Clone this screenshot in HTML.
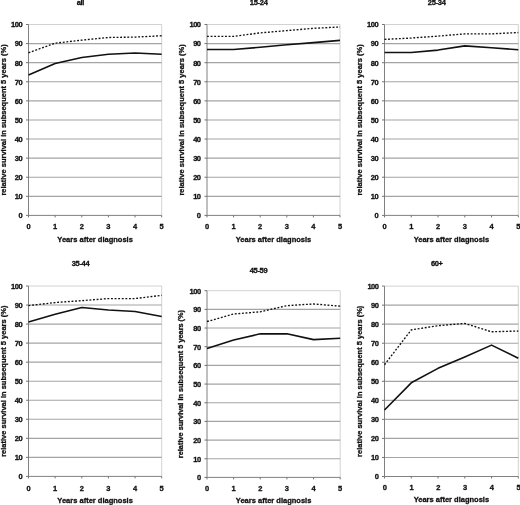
<!DOCTYPE html>
<html><head><meta charset="utf-8"><title>Conditional relative survival</title>
<style>
html,body{margin:0;padding:0;background:#fff;}
body{width:520px;height:505px;overflow:hidden;}
svg{display:block;will-change:transform;filter:grayscale(1);}
text{font-family:"Liberation Sans",Arial,Helvetica,sans-serif;font-weight:bold;font-size:7.5px;fill:#111;stroke:#111;stroke-width:0.3px;}
.yl{font-weight:bold;}
.yt{letter-spacing:-0.5px;}
.tt{letter-spacing:-0.3px;}
</style></head><body>
<svg width="520" height="505" viewBox="0 0 520 505">
<rect width="520" height="505" fill="#fff"/>
<g>
<path d="M28.5 24.5H161.7V215.4" fill="none" stroke="#c6c6c6" stroke-width="0.8"/>
<line x1="28.50" y1="196.31" x2="161.70" y2="196.31" stroke="#a4a4a4" stroke-width="1.15"/>
<line x1="28.50" y1="177.22" x2="161.70" y2="177.22" stroke="#a4a4a4" stroke-width="1.15"/>
<line x1="28.50" y1="158.13" x2="161.70" y2="158.13" stroke="#a4a4a4" stroke-width="1.15"/>
<line x1="28.50" y1="139.04" x2="161.70" y2="139.04" stroke="#a4a4a4" stroke-width="1.15"/>
<line x1="28.50" y1="119.95" x2="161.70" y2="119.95" stroke="#a4a4a4" stroke-width="1.15"/>
<line x1="28.50" y1="100.86" x2="161.70" y2="100.86" stroke="#a4a4a4" stroke-width="1.15"/>
<line x1="28.50" y1="81.77" x2="161.70" y2="81.77" stroke="#a4a4a4" stroke-width="1.15"/>
<line x1="28.50" y1="62.68" x2="161.70" y2="62.68" stroke="#a4a4a4" stroke-width="1.15"/>
<line x1="28.50" y1="43.59" x2="161.70" y2="43.59" stroke="#a4a4a4" stroke-width="1.15"/>
<path d="M28.5 24.5V215.4H161.7" fill="none" stroke="#727272" stroke-width="0.9"/>
<line x1="26.00" y1="215.40" x2="28.50" y2="215.40" stroke="#727272" stroke-width="1"/>
<text x="22.10" y="218.30" text-anchor="end" class="yt">0</text>
<line x1="26.00" y1="196.31" x2="28.50" y2="196.31" stroke="#727272" stroke-width="1"/>
<text x="22.10" y="199.21" text-anchor="end" class="yt">10</text>
<line x1="26.00" y1="177.22" x2="28.50" y2="177.22" stroke="#727272" stroke-width="1"/>
<text x="22.10" y="180.12" text-anchor="end" class="yt">20</text>
<line x1="26.00" y1="158.13" x2="28.50" y2="158.13" stroke="#727272" stroke-width="1"/>
<text x="22.10" y="161.03" text-anchor="end" class="yt">30</text>
<line x1="26.00" y1="139.04" x2="28.50" y2="139.04" stroke="#727272" stroke-width="1"/>
<text x="22.10" y="141.94" text-anchor="end" class="yt">40</text>
<line x1="26.00" y1="119.95" x2="28.50" y2="119.95" stroke="#727272" stroke-width="1"/>
<text x="22.10" y="122.85" text-anchor="end" class="yt">50</text>
<line x1="26.00" y1="100.86" x2="28.50" y2="100.86" stroke="#727272" stroke-width="1"/>
<text x="22.10" y="103.76" text-anchor="end" class="yt">60</text>
<line x1="26.00" y1="81.77" x2="28.50" y2="81.77" stroke="#727272" stroke-width="1"/>
<text x="22.10" y="84.67" text-anchor="end" class="yt">70</text>
<line x1="26.00" y1="62.68" x2="28.50" y2="62.68" stroke="#727272" stroke-width="1"/>
<text x="22.10" y="65.58" text-anchor="end" class="yt">80</text>
<line x1="26.00" y1="43.59" x2="28.50" y2="43.59" stroke="#727272" stroke-width="1"/>
<text x="22.10" y="46.49" text-anchor="end" class="yt">90</text>
<line x1="26.00" y1="24.50" x2="28.50" y2="24.50" stroke="#727272" stroke-width="1"/>
<text x="22.10" y="27.40" text-anchor="end" class="yt">100</text>
<line x1="28.50" y1="215.40" x2="28.50" y2="217.40" stroke="#727272" stroke-width="1"/>
<text x="28.50" y="229.10" text-anchor="middle">0</text>
<line x1="55.14" y1="215.40" x2="55.14" y2="217.40" stroke="#727272" stroke-width="1"/>
<text x="55.14" y="229.10" text-anchor="middle">1</text>
<line x1="81.78" y1="215.40" x2="81.78" y2="217.40" stroke="#727272" stroke-width="1"/>
<text x="81.78" y="229.10" text-anchor="middle">2</text>
<line x1="108.42" y1="215.40" x2="108.42" y2="217.40" stroke="#727272" stroke-width="1"/>
<text x="108.42" y="229.10" text-anchor="middle">3</text>
<line x1="135.06" y1="215.40" x2="135.06" y2="217.40" stroke="#727272" stroke-width="1"/>
<text x="135.06" y="229.10" text-anchor="middle">4</text>
<line x1="161.70" y1="215.40" x2="161.70" y2="217.40" stroke="#727272" stroke-width="1"/>
<text x="161.70" y="229.10" text-anchor="middle">5</text>
<polyline points="28.50,52.75 55.14,43.21 81.78,40.15 108.42,37.48 135.06,37.10 161.70,35.76" fill="none" stroke="#111" stroke-width="1.35" stroke-dasharray="1.9 1.7"/>
<polyline points="28.50,75.09 55.14,63.44 81.78,57.53 108.42,54.28 135.06,52.94 161.70,54.28" fill="none" stroke="#111" stroke-width="1.6" stroke-linejoin="round"/>
<text x="80.4" y="5.30" text-anchor="middle" class="tt">all</text>
<text x="95.10" y="241.70" text-anchor="middle">Years after diagnosis</text>
<text class="yl" style="font-size:7.5px" transform="translate(5.70 119.95) rotate(-90)" text-anchor="middle">relative survival in subsequent 5 years (%)</text>
</g>
<g>
<path d="M207.0 24.5H340.0V215.4" fill="none" stroke="#c6c6c6" stroke-width="0.8"/>
<line x1="207.00" y1="196.31" x2="340.00" y2="196.31" stroke="#a4a4a4" stroke-width="1.15"/>
<line x1="207.00" y1="177.22" x2="340.00" y2="177.22" stroke="#a4a4a4" stroke-width="1.15"/>
<line x1="207.00" y1="158.13" x2="340.00" y2="158.13" stroke="#a4a4a4" stroke-width="1.15"/>
<line x1="207.00" y1="139.04" x2="340.00" y2="139.04" stroke="#a4a4a4" stroke-width="1.15"/>
<line x1="207.00" y1="119.95" x2="340.00" y2="119.95" stroke="#a4a4a4" stroke-width="1.15"/>
<line x1="207.00" y1="100.86" x2="340.00" y2="100.86" stroke="#a4a4a4" stroke-width="1.15"/>
<line x1="207.00" y1="81.77" x2="340.00" y2="81.77" stroke="#a4a4a4" stroke-width="1.15"/>
<line x1="207.00" y1="62.68" x2="340.00" y2="62.68" stroke="#a4a4a4" stroke-width="1.15"/>
<line x1="207.00" y1="43.59" x2="340.00" y2="43.59" stroke="#a4a4a4" stroke-width="1.15"/>
<path d="M207.0 24.5V215.4H340.0" fill="none" stroke="#727272" stroke-width="0.9"/>
<line x1="204.50" y1="215.40" x2="207.00" y2="215.40" stroke="#727272" stroke-width="1"/>
<text x="200.50" y="218.30" text-anchor="end" class="yt">0</text>
<line x1="204.50" y1="196.31" x2="207.00" y2="196.31" stroke="#727272" stroke-width="1"/>
<text x="200.50" y="199.21" text-anchor="end" class="yt">10</text>
<line x1="204.50" y1="177.22" x2="207.00" y2="177.22" stroke="#727272" stroke-width="1"/>
<text x="200.50" y="180.12" text-anchor="end" class="yt">20</text>
<line x1="204.50" y1="158.13" x2="207.00" y2="158.13" stroke="#727272" stroke-width="1"/>
<text x="200.50" y="161.03" text-anchor="end" class="yt">30</text>
<line x1="204.50" y1="139.04" x2="207.00" y2="139.04" stroke="#727272" stroke-width="1"/>
<text x="200.50" y="141.94" text-anchor="end" class="yt">40</text>
<line x1="204.50" y1="119.95" x2="207.00" y2="119.95" stroke="#727272" stroke-width="1"/>
<text x="200.50" y="122.85" text-anchor="end" class="yt">50</text>
<line x1="204.50" y1="100.86" x2="207.00" y2="100.86" stroke="#727272" stroke-width="1"/>
<text x="200.50" y="103.76" text-anchor="end" class="yt">60</text>
<line x1="204.50" y1="81.77" x2="207.00" y2="81.77" stroke="#727272" stroke-width="1"/>
<text x="200.50" y="84.67" text-anchor="end" class="yt">70</text>
<line x1="204.50" y1="62.68" x2="207.00" y2="62.68" stroke="#727272" stroke-width="1"/>
<text x="200.50" y="65.58" text-anchor="end" class="yt">80</text>
<line x1="204.50" y1="43.59" x2="207.00" y2="43.59" stroke="#727272" stroke-width="1"/>
<text x="200.50" y="46.49" text-anchor="end" class="yt">90</text>
<line x1="204.50" y1="24.50" x2="207.00" y2="24.50" stroke="#727272" stroke-width="1"/>
<text x="200.50" y="27.40" text-anchor="end" class="yt">100</text>
<line x1="207.00" y1="215.40" x2="207.00" y2="217.40" stroke="#727272" stroke-width="1"/>
<text x="207.00" y="229.10" text-anchor="middle">0</text>
<line x1="233.60" y1="215.40" x2="233.60" y2="217.40" stroke="#727272" stroke-width="1"/>
<text x="233.60" y="229.10" text-anchor="middle">1</text>
<line x1="260.20" y1="215.40" x2="260.20" y2="217.40" stroke="#727272" stroke-width="1"/>
<text x="260.20" y="229.10" text-anchor="middle">2</text>
<line x1="286.80" y1="215.40" x2="286.80" y2="217.40" stroke="#727272" stroke-width="1"/>
<text x="286.80" y="229.10" text-anchor="middle">3</text>
<line x1="313.40" y1="215.40" x2="313.40" y2="217.40" stroke="#727272" stroke-width="1"/>
<text x="313.40" y="229.10" text-anchor="middle">4</text>
<line x1="340.00" y1="215.40" x2="340.00" y2="217.40" stroke="#727272" stroke-width="1"/>
<text x="340.00" y="229.10" text-anchor="middle">5</text>
<polyline points="207.00,36.34 233.60,36.34 260.20,32.90 286.80,30.61 313.40,28.32 340.00,26.98" fill="none" stroke="#111" stroke-width="1.35" stroke-dasharray="1.9 1.7"/>
<polyline points="207.00,49.51 233.60,49.51 260.20,47.22 286.80,44.74 313.40,42.64 340.00,40.34" fill="none" stroke="#111" stroke-width="1.6" stroke-linejoin="round"/>
<text x="258.7" y="5.30" text-anchor="middle" class="tt">15-24</text>
<text x="273.50" y="241.70" text-anchor="middle">Years after diagnosis</text>
<text class="yl" style="font-size:7.5px" transform="translate(183.90 119.95) rotate(-90)" text-anchor="middle">relative survival in subsequent 5 years (%)</text>
</g>
<g>
<path d="M384.5 24.5H518.3V215.4" fill="none" stroke="#c6c6c6" stroke-width="0.8"/>
<line x1="384.50" y1="196.31" x2="518.30" y2="196.31" stroke="#a4a4a4" stroke-width="1.15"/>
<line x1="384.50" y1="177.22" x2="518.30" y2="177.22" stroke="#a4a4a4" stroke-width="1.15"/>
<line x1="384.50" y1="158.13" x2="518.30" y2="158.13" stroke="#a4a4a4" stroke-width="1.15"/>
<line x1="384.50" y1="139.04" x2="518.30" y2="139.04" stroke="#a4a4a4" stroke-width="1.15"/>
<line x1="384.50" y1="119.95" x2="518.30" y2="119.95" stroke="#a4a4a4" stroke-width="1.15"/>
<line x1="384.50" y1="100.86" x2="518.30" y2="100.86" stroke="#a4a4a4" stroke-width="1.15"/>
<line x1="384.50" y1="81.77" x2="518.30" y2="81.77" stroke="#a4a4a4" stroke-width="1.15"/>
<line x1="384.50" y1="62.68" x2="518.30" y2="62.68" stroke="#a4a4a4" stroke-width="1.15"/>
<line x1="384.50" y1="43.59" x2="518.30" y2="43.59" stroke="#a4a4a4" stroke-width="1.15"/>
<path d="M384.5 24.5V215.4H518.3" fill="none" stroke="#727272" stroke-width="0.9"/>
<line x1="382.00" y1="215.40" x2="384.50" y2="215.40" stroke="#727272" stroke-width="1"/>
<text x="378.10" y="218.30" text-anchor="end" class="yt">0</text>
<line x1="382.00" y1="196.31" x2="384.50" y2="196.31" stroke="#727272" stroke-width="1"/>
<text x="378.10" y="199.21" text-anchor="end" class="yt">10</text>
<line x1="382.00" y1="177.22" x2="384.50" y2="177.22" stroke="#727272" stroke-width="1"/>
<text x="378.10" y="180.12" text-anchor="end" class="yt">20</text>
<line x1="382.00" y1="158.13" x2="384.50" y2="158.13" stroke="#727272" stroke-width="1"/>
<text x="378.10" y="161.03" text-anchor="end" class="yt">30</text>
<line x1="382.00" y1="139.04" x2="384.50" y2="139.04" stroke="#727272" stroke-width="1"/>
<text x="378.10" y="141.94" text-anchor="end" class="yt">40</text>
<line x1="382.00" y1="119.95" x2="384.50" y2="119.95" stroke="#727272" stroke-width="1"/>
<text x="378.10" y="122.85" text-anchor="end" class="yt">50</text>
<line x1="382.00" y1="100.86" x2="384.50" y2="100.86" stroke="#727272" stroke-width="1"/>
<text x="378.10" y="103.76" text-anchor="end" class="yt">60</text>
<line x1="382.00" y1="81.77" x2="384.50" y2="81.77" stroke="#727272" stroke-width="1"/>
<text x="378.10" y="84.67" text-anchor="end" class="yt">70</text>
<line x1="382.00" y1="62.68" x2="384.50" y2="62.68" stroke="#727272" stroke-width="1"/>
<text x="378.10" y="65.58" text-anchor="end" class="yt">80</text>
<line x1="382.00" y1="43.59" x2="384.50" y2="43.59" stroke="#727272" stroke-width="1"/>
<text x="378.10" y="46.49" text-anchor="end" class="yt">90</text>
<line x1="382.00" y1="24.50" x2="384.50" y2="24.50" stroke="#727272" stroke-width="1"/>
<text x="378.10" y="27.40" text-anchor="end" class="yt">100</text>
<line x1="384.50" y1="215.40" x2="384.50" y2="217.40" stroke="#727272" stroke-width="1"/>
<text x="384.50" y="229.10" text-anchor="middle">0</text>
<line x1="411.26" y1="215.40" x2="411.26" y2="217.40" stroke="#727272" stroke-width="1"/>
<text x="411.26" y="229.10" text-anchor="middle">1</text>
<line x1="438.02" y1="215.40" x2="438.02" y2="217.40" stroke="#727272" stroke-width="1"/>
<text x="438.02" y="229.10" text-anchor="middle">2</text>
<line x1="464.78" y1="215.40" x2="464.78" y2="217.40" stroke="#727272" stroke-width="1"/>
<text x="464.78" y="229.10" text-anchor="middle">3</text>
<line x1="491.54" y1="215.40" x2="491.54" y2="217.40" stroke="#727272" stroke-width="1"/>
<text x="491.54" y="229.10" text-anchor="middle">4</text>
<line x1="518.30" y1="215.40" x2="518.30" y2="217.40" stroke="#727272" stroke-width="1"/>
<text x="518.30" y="229.10" text-anchor="middle">5</text>
<polyline points="384.50,39.39 411.26,38.05 438.02,36.14 464.78,33.85 491.54,33.85 518.30,32.52" fill="none" stroke="#111" stroke-width="1.35" stroke-dasharray="1.9 1.7"/>
<polyline points="384.50,52.56 411.26,52.56 438.02,50.08 464.78,45.88 491.54,47.79 518.30,49.70" fill="none" stroke="#111" stroke-width="1.6" stroke-linejoin="round"/>
<text x="436.7" y="5.10" text-anchor="middle" class="tt">25-34</text>
<text x="451.40" y="241.70" text-anchor="middle">Years after diagnosis</text>
<text class="yl" style="font-size:7.5px" transform="translate(361.80 119.95) rotate(-90)" text-anchor="middle">relative survival in subsequent 5 years (%)</text>
</g>
<g>
<path d="M28.5 286.0H161.7V476.4" fill="none" stroke="#c6c6c6" stroke-width="0.8"/>
<line x1="28.50" y1="457.36" x2="161.70" y2="457.36" stroke="#a4a4a4" stroke-width="1.15"/>
<line x1="28.50" y1="438.32" x2="161.70" y2="438.32" stroke="#a4a4a4" stroke-width="1.15"/>
<line x1="28.50" y1="419.28" x2="161.70" y2="419.28" stroke="#a4a4a4" stroke-width="1.15"/>
<line x1="28.50" y1="400.24" x2="161.70" y2="400.24" stroke="#a4a4a4" stroke-width="1.15"/>
<line x1="28.50" y1="381.20" x2="161.70" y2="381.20" stroke="#a4a4a4" stroke-width="1.15"/>
<line x1="28.50" y1="362.16" x2="161.70" y2="362.16" stroke="#a4a4a4" stroke-width="1.15"/>
<line x1="28.50" y1="343.12" x2="161.70" y2="343.12" stroke="#a4a4a4" stroke-width="1.15"/>
<line x1="28.50" y1="324.08" x2="161.70" y2="324.08" stroke="#a4a4a4" stroke-width="1.15"/>
<line x1="28.50" y1="305.04" x2="161.70" y2="305.04" stroke="#a4a4a4" stroke-width="1.15"/>
<path d="M28.5 286.0V476.4H161.7" fill="none" stroke="#727272" stroke-width="0.9"/>
<line x1="26.00" y1="476.40" x2="28.50" y2="476.40" stroke="#727272" stroke-width="1"/>
<text x="22.10" y="479.30" text-anchor="end" class="yt">0</text>
<line x1="26.00" y1="457.36" x2="28.50" y2="457.36" stroke="#727272" stroke-width="1"/>
<text x="22.10" y="460.26" text-anchor="end" class="yt">10</text>
<line x1="26.00" y1="438.32" x2="28.50" y2="438.32" stroke="#727272" stroke-width="1"/>
<text x="22.10" y="441.22" text-anchor="end" class="yt">20</text>
<line x1="26.00" y1="419.28" x2="28.50" y2="419.28" stroke="#727272" stroke-width="1"/>
<text x="22.10" y="422.18" text-anchor="end" class="yt">30</text>
<line x1="26.00" y1="400.24" x2="28.50" y2="400.24" stroke="#727272" stroke-width="1"/>
<text x="22.10" y="403.14" text-anchor="end" class="yt">40</text>
<line x1="26.00" y1="381.20" x2="28.50" y2="381.20" stroke="#727272" stroke-width="1"/>
<text x="22.10" y="384.10" text-anchor="end" class="yt">50</text>
<line x1="26.00" y1="362.16" x2="28.50" y2="362.16" stroke="#727272" stroke-width="1"/>
<text x="22.10" y="365.06" text-anchor="end" class="yt">60</text>
<line x1="26.00" y1="343.12" x2="28.50" y2="343.12" stroke="#727272" stroke-width="1"/>
<text x="22.10" y="346.02" text-anchor="end" class="yt">70</text>
<line x1="26.00" y1="324.08" x2="28.50" y2="324.08" stroke="#727272" stroke-width="1"/>
<text x="22.10" y="326.98" text-anchor="end" class="yt">80</text>
<line x1="26.00" y1="305.04" x2="28.50" y2="305.04" stroke="#727272" stroke-width="1"/>
<text x="22.10" y="307.94" text-anchor="end" class="yt">90</text>
<line x1="26.00" y1="286.00" x2="28.50" y2="286.00" stroke="#727272" stroke-width="1"/>
<text x="22.10" y="288.90" text-anchor="end" class="yt">100</text>
<line x1="28.50" y1="476.40" x2="28.50" y2="478.40" stroke="#727272" stroke-width="1"/>
<text x="28.50" y="490.60" text-anchor="middle">0</text>
<line x1="55.14" y1="476.40" x2="55.14" y2="478.40" stroke="#727272" stroke-width="1"/>
<text x="55.14" y="490.60" text-anchor="middle">1</text>
<line x1="81.78" y1="476.40" x2="81.78" y2="478.40" stroke="#727272" stroke-width="1"/>
<text x="81.78" y="490.60" text-anchor="middle">2</text>
<line x1="108.42" y1="476.40" x2="108.42" y2="478.40" stroke="#727272" stroke-width="1"/>
<text x="108.42" y="490.60" text-anchor="middle">3</text>
<line x1="135.06" y1="476.40" x2="135.06" y2="478.40" stroke="#727272" stroke-width="1"/>
<text x="135.06" y="490.60" text-anchor="middle">4</text>
<line x1="161.70" y1="476.40" x2="161.70" y2="478.40" stroke="#727272" stroke-width="1"/>
<text x="161.70" y="490.60" text-anchor="middle">5</text>
<polyline points="28.50,305.61 55.14,302.56 81.78,300.66 108.42,298.57 135.06,298.57 161.70,295.33" fill="none" stroke="#111" stroke-width="1.35" stroke-dasharray="1.9 1.7"/>
<polyline points="28.50,321.99 55.14,314.18 81.78,307.52 108.42,309.99 135.06,311.51 161.70,316.46" fill="none" stroke="#111" stroke-width="1.6" stroke-linejoin="round"/>
<text x="80.5" y="266.30" text-anchor="middle" class="tt">35-44</text>
<text x="95.10" y="502.70" text-anchor="middle">Years after diagnosis</text>
<text class="yl" style="font-size:7.5px" transform="translate(5.50 381.20) rotate(-90)" text-anchor="middle">relative survival in subsequent 5 years (%)</text>
</g>
<g>
<path d="M207.0 290.7H340.2V477.4" fill="none" stroke="#c6c6c6" stroke-width="0.8"/>
<line x1="207.00" y1="458.73" x2="340.20" y2="458.73" stroke="#a4a4a4" stroke-width="1.15"/>
<line x1="207.00" y1="440.06" x2="340.20" y2="440.06" stroke="#a4a4a4" stroke-width="1.15"/>
<line x1="207.00" y1="421.39" x2="340.20" y2="421.39" stroke="#a4a4a4" stroke-width="1.15"/>
<line x1="207.00" y1="402.72" x2="340.20" y2="402.72" stroke="#a4a4a4" stroke-width="1.15"/>
<line x1="207.00" y1="384.05" x2="340.20" y2="384.05" stroke="#a4a4a4" stroke-width="1.15"/>
<line x1="207.00" y1="365.38" x2="340.20" y2="365.38" stroke="#a4a4a4" stroke-width="1.15"/>
<line x1="207.00" y1="346.71" x2="340.20" y2="346.71" stroke="#a4a4a4" stroke-width="1.15"/>
<line x1="207.00" y1="328.04" x2="340.20" y2="328.04" stroke="#a4a4a4" stroke-width="1.15"/>
<line x1="207.00" y1="309.37" x2="340.20" y2="309.37" stroke="#a4a4a4" stroke-width="1.15"/>
<path d="M207.0 290.7V477.4H340.2" fill="none" stroke="#727272" stroke-width="0.9"/>
<line x1="204.50" y1="477.40" x2="207.00" y2="477.40" stroke="#727272" stroke-width="1"/>
<text x="200.60" y="480.30" text-anchor="end" class="yt">0</text>
<line x1="204.50" y1="458.73" x2="207.00" y2="458.73" stroke="#727272" stroke-width="1"/>
<text x="200.60" y="461.63" text-anchor="end" class="yt">10</text>
<line x1="204.50" y1="440.06" x2="207.00" y2="440.06" stroke="#727272" stroke-width="1"/>
<text x="200.60" y="442.96" text-anchor="end" class="yt">20</text>
<line x1="204.50" y1="421.39" x2="207.00" y2="421.39" stroke="#727272" stroke-width="1"/>
<text x="200.60" y="424.29" text-anchor="end" class="yt">30</text>
<line x1="204.50" y1="402.72" x2="207.00" y2="402.72" stroke="#727272" stroke-width="1"/>
<text x="200.60" y="405.62" text-anchor="end" class="yt">40</text>
<line x1="204.50" y1="384.05" x2="207.00" y2="384.05" stroke="#727272" stroke-width="1"/>
<text x="200.60" y="386.95" text-anchor="end" class="yt">50</text>
<line x1="204.50" y1="365.38" x2="207.00" y2="365.38" stroke="#727272" stroke-width="1"/>
<text x="200.60" y="368.28" text-anchor="end" class="yt">60</text>
<line x1="204.50" y1="346.71" x2="207.00" y2="346.71" stroke="#727272" stroke-width="1"/>
<text x="200.60" y="349.61" text-anchor="end" class="yt">70</text>
<line x1="204.50" y1="328.04" x2="207.00" y2="328.04" stroke="#727272" stroke-width="1"/>
<text x="200.60" y="330.94" text-anchor="end" class="yt">80</text>
<line x1="204.50" y1="309.37" x2="207.00" y2="309.37" stroke="#727272" stroke-width="1"/>
<text x="200.60" y="312.27" text-anchor="end" class="yt">90</text>
<line x1="204.50" y1="290.70" x2="207.00" y2="290.70" stroke="#727272" stroke-width="1"/>
<text x="200.60" y="293.60" text-anchor="end" class="yt">100</text>
<line x1="207.00" y1="477.40" x2="207.00" y2="479.40" stroke="#727272" stroke-width="1"/>
<text x="207.00" y="491.10" text-anchor="middle">0</text>
<line x1="233.64" y1="477.40" x2="233.64" y2="479.40" stroke="#727272" stroke-width="1"/>
<text x="233.64" y="491.10" text-anchor="middle">1</text>
<line x1="260.28" y1="477.40" x2="260.28" y2="479.40" stroke="#727272" stroke-width="1"/>
<text x="260.28" y="491.10" text-anchor="middle">2</text>
<line x1="286.92" y1="477.40" x2="286.92" y2="479.40" stroke="#727272" stroke-width="1"/>
<text x="286.92" y="491.10" text-anchor="middle">3</text>
<line x1="313.56" y1="477.40" x2="313.56" y2="479.40" stroke="#727272" stroke-width="1"/>
<text x="313.56" y="491.10" text-anchor="middle">4</text>
<line x1="340.20" y1="477.40" x2="340.20" y2="479.40" stroke="#727272" stroke-width="1"/>
<text x="340.20" y="491.10" text-anchor="middle">5</text>
<polyline points="207.00,321.51 233.64,314.04 260.28,311.80 286.92,305.64 313.56,303.96 340.20,306.20" fill="none" stroke="#111" stroke-width="1.35" stroke-dasharray="1.9 1.7"/>
<polyline points="207.00,348.39 233.64,339.99 260.28,333.83 286.92,333.83 313.56,339.62 340.20,338.31" fill="none" stroke="#111" stroke-width="1.6" stroke-linejoin="round"/>
<text x="258.5" y="272.60" text-anchor="middle" class="tt">45-59</text>
<text x="273.60" y="503.10" text-anchor="middle">Years after diagnosis</text>
<text class="yl" style="font-size:7.35px" transform="translate(183.40 384.05) rotate(-90)" text-anchor="middle">relative survival in subsequent 5 years (%)</text>
</g>
<g>
<path d="M384.5 286.1H518.3V476.5" fill="none" stroke="#c6c6c6" stroke-width="0.8"/>
<line x1="384.50" y1="457.46" x2="518.30" y2="457.46" stroke="#a4a4a4" stroke-width="1.15"/>
<line x1="384.50" y1="438.42" x2="518.30" y2="438.42" stroke="#a4a4a4" stroke-width="1.15"/>
<line x1="384.50" y1="419.38" x2="518.30" y2="419.38" stroke="#a4a4a4" stroke-width="1.15"/>
<line x1="384.50" y1="400.34" x2="518.30" y2="400.34" stroke="#a4a4a4" stroke-width="1.15"/>
<line x1="384.50" y1="381.30" x2="518.30" y2="381.30" stroke="#a4a4a4" stroke-width="1.15"/>
<line x1="384.50" y1="362.26" x2="518.30" y2="362.26" stroke="#a4a4a4" stroke-width="1.15"/>
<line x1="384.50" y1="343.22" x2="518.30" y2="343.22" stroke="#a4a4a4" stroke-width="1.15"/>
<line x1="384.50" y1="324.18" x2="518.30" y2="324.18" stroke="#a4a4a4" stroke-width="1.15"/>
<line x1="384.50" y1="305.14" x2="518.30" y2="305.14" stroke="#a4a4a4" stroke-width="1.15"/>
<path d="M384.5 286.1V476.5H518.3" fill="none" stroke="#727272" stroke-width="0.9"/>
<line x1="382.00" y1="476.50" x2="384.50" y2="476.50" stroke="#727272" stroke-width="1"/>
<text x="378.40" y="479.40" text-anchor="end" class="yt">0</text>
<line x1="382.00" y1="457.46" x2="384.50" y2="457.46" stroke="#727272" stroke-width="1"/>
<text x="378.40" y="460.36" text-anchor="end" class="yt">10</text>
<line x1="382.00" y1="438.42" x2="384.50" y2="438.42" stroke="#727272" stroke-width="1"/>
<text x="378.40" y="441.32" text-anchor="end" class="yt">20</text>
<line x1="382.00" y1="419.38" x2="384.50" y2="419.38" stroke="#727272" stroke-width="1"/>
<text x="378.40" y="422.28" text-anchor="end" class="yt">30</text>
<line x1="382.00" y1="400.34" x2="384.50" y2="400.34" stroke="#727272" stroke-width="1"/>
<text x="378.40" y="403.24" text-anchor="end" class="yt">40</text>
<line x1="382.00" y1="381.30" x2="384.50" y2="381.30" stroke="#727272" stroke-width="1"/>
<text x="378.40" y="384.20" text-anchor="end" class="yt">50</text>
<line x1="382.00" y1="362.26" x2="384.50" y2="362.26" stroke="#727272" stroke-width="1"/>
<text x="378.40" y="365.16" text-anchor="end" class="yt">60</text>
<line x1="382.00" y1="343.22" x2="384.50" y2="343.22" stroke="#727272" stroke-width="1"/>
<text x="378.40" y="346.12" text-anchor="end" class="yt">70</text>
<line x1="382.00" y1="324.18" x2="384.50" y2="324.18" stroke="#727272" stroke-width="1"/>
<text x="378.40" y="327.08" text-anchor="end" class="yt">80</text>
<line x1="382.00" y1="305.14" x2="384.50" y2="305.14" stroke="#727272" stroke-width="1"/>
<text x="378.40" y="308.04" text-anchor="end" class="yt">90</text>
<line x1="382.00" y1="286.10" x2="384.50" y2="286.10" stroke="#727272" stroke-width="1"/>
<text x="378.40" y="289.00" text-anchor="end" class="yt">100</text>
<line x1="384.50" y1="476.50" x2="384.50" y2="478.50" stroke="#727272" stroke-width="1"/>
<text x="384.80" y="490.10" text-anchor="middle">0</text>
<line x1="411.26" y1="476.50" x2="411.26" y2="478.50" stroke="#727272" stroke-width="1"/>
<text x="411.56" y="490.10" text-anchor="middle">1</text>
<line x1="438.02" y1="476.50" x2="438.02" y2="478.50" stroke="#727272" stroke-width="1"/>
<text x="438.32" y="490.10" text-anchor="middle">2</text>
<line x1="464.78" y1="476.50" x2="464.78" y2="478.50" stroke="#727272" stroke-width="1"/>
<text x="465.08" y="490.10" text-anchor="middle">3</text>
<line x1="491.54" y1="476.50" x2="491.54" y2="478.50" stroke="#727272" stroke-width="1"/>
<text x="491.84" y="490.10" text-anchor="middle">4</text>
<line x1="518.30" y1="476.50" x2="518.30" y2="478.50" stroke="#727272" stroke-width="1"/>
<text x="518.60" y="490.10" text-anchor="middle">5</text>
<polyline points="384.50,364.74 411.26,329.89 438.02,325.70 464.78,323.42 491.54,331.80 518.30,331.03" fill="none" stroke="#111" stroke-width="1.35" stroke-dasharray="1.9 1.7"/>
<polyline points="384.50,410.05 411.26,382.82 438.02,368.35 464.78,356.93 491.54,345.12 518.30,358.26" fill="none" stroke="#111" stroke-width="1.6" stroke-linejoin="round"/>
<text x="436.8" y="266.30" text-anchor="middle" class="tt">60+</text>
<text x="451.40" y="502.40" text-anchor="middle">Years after diagnosis</text>
<text class="yl" style="font-size:7.5px" transform="translate(362.10 381.30) rotate(-90)" text-anchor="middle">relative survival in subsequent 5 years (%)</text>
</g>
</svg>
</body></html>
